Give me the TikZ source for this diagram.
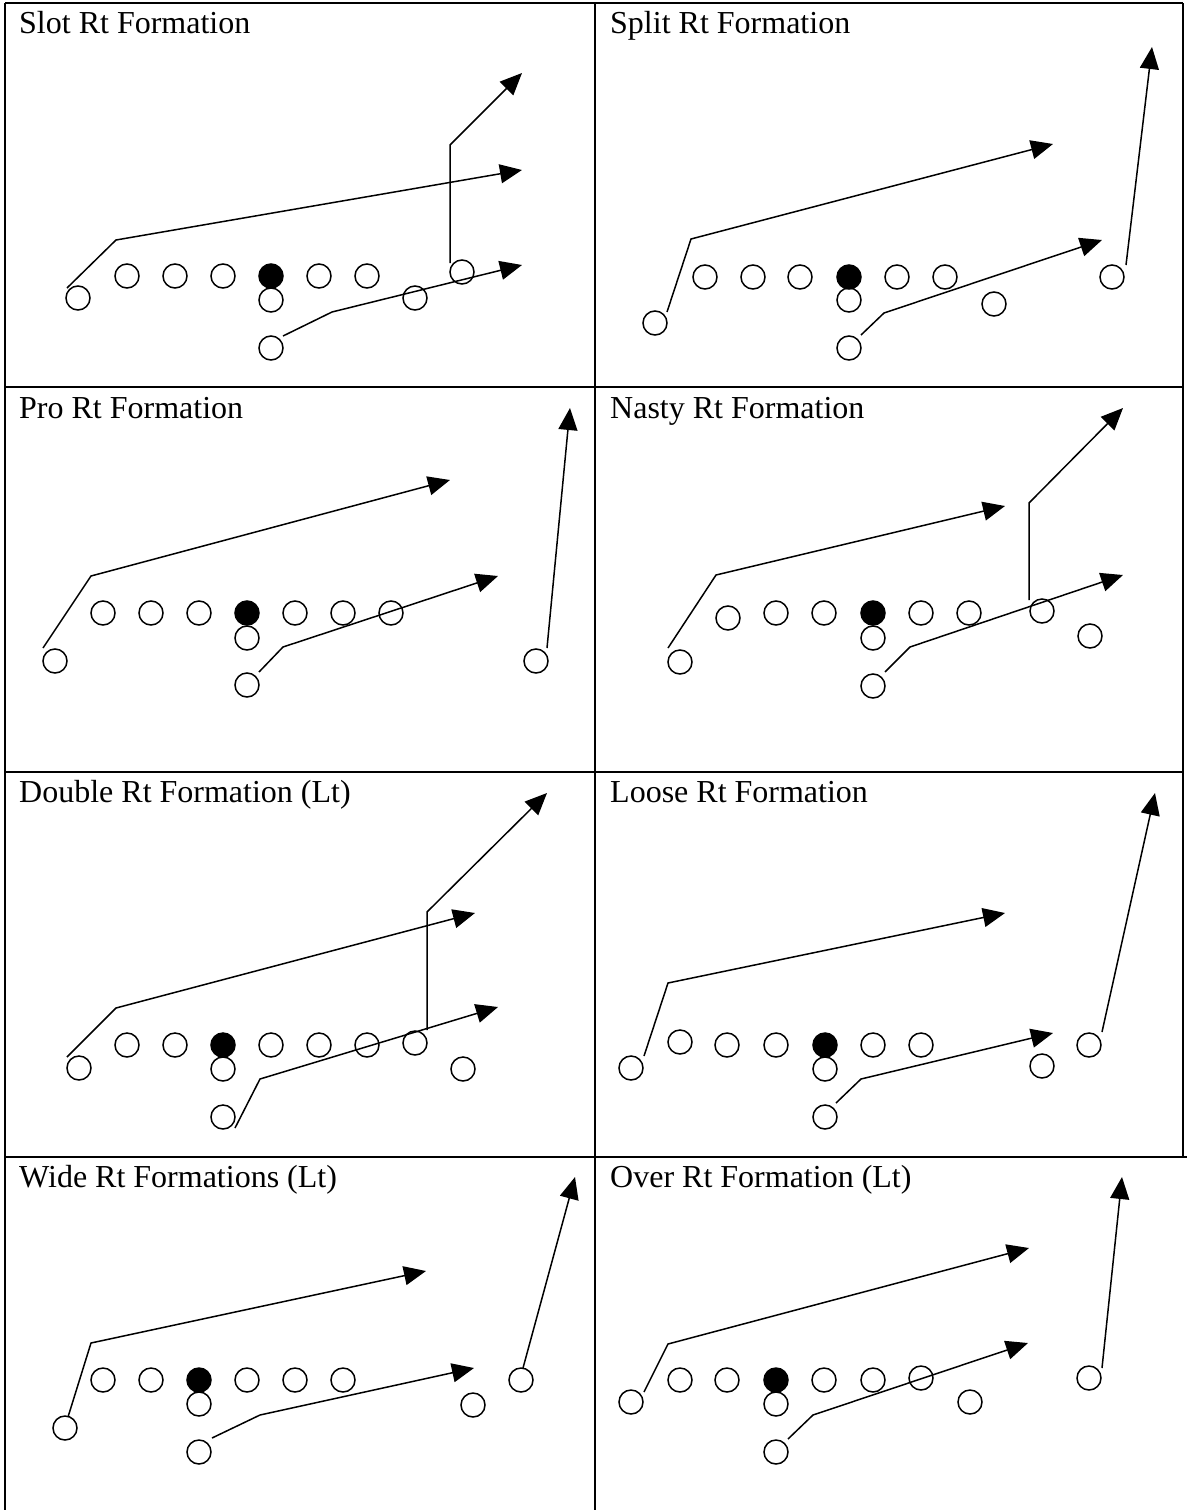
\documentclass[tikz,border=0pt]{standalone}
\usepackage{fontspec}
\setmainfont{Liberation Serif}
\usetikzlibrary{arrows.meta}
\begin{document}
\begin{tikzpicture}[x=1pt,y=-1pt,
  pl/.style={circle,draw,line width=1.5pt,minimum size=24pt,inner sep=0pt},
  qb/.style={pl,fill=black},
  route/.style={line width=1.5pt,-{Triangle[length=22pt,width=19pt]}},
  frame/.style={line width=2pt},
  ttl/.style={anchor=base west,inner sep=0pt,font=\fontsize{32}{38}\selectfont}]
\useasboundingbox (0,0) rectangle (1187,1510);
% frame
\draw[frame] (5,3) -- (1183,3);
\draw[frame] (5,387) -- (1183,387);
\draw[frame] (5,772) -- (1183,772);
\draw[frame] (5,1157) -- (1187,1157);
\draw[frame] (5,3) -- (5,1510);
\draw[frame] (595,3) -- (595,1510);
\draw[frame] (1183,3) -- (1183,1157);
% titles
\node[ttl] (t1) at (19,33) {Slot Rt Formation};
\node[ttl] (t2) at (610,33) {Split Rt Formation};
\node[ttl] (t3) at (19,418) {Pro Rt Formation};
\node[ttl] (t4) at (610,418) {Nasty Rt Formation};
\node[ttl] (t5) at (19,802) {Double Rt Formation (Lt)};
\node[ttl] (t6) at (610,802) {Loose Rt Formation};
\node[ttl] (t7) at (19,1187) {Wide Rt Formations (Lt)};
\node[ttl] (t8) at (610,1187) {Over Rt Formation (Lt)};

% ---------- Panel A: Slot Rt
\node[pl] (a1) at (127,276) {};
\node[pl] (a2) at (175,276) {};
\node[pl] (a3) at (223,276) {};
\node[qb] (aq) at (271,276) {};
\node[pl] (a5) at (319,276) {};
\node[pl] (a6) at (367,276) {};
\node[pl] (a7) at (462,272) {};
\node[pl] (a8) at (78,298) {};
\node[pl] (a9) at (271,300) {};
\node[pl] (a10) at (415,298) {};
\node[pl] (a11) at (271,348) {};
\coordinate (ar1s) at (67,288); \coordinate (ar1b) at (116,240); \coordinate (ar1e) at (522,170);
\coordinate (ar2s) at (450,263); \coordinate (ar2b) at (450,145); \coordinate (ar2e) at (522,73);
\coordinate (ar3s) at (283,336); \coordinate (ar3b) at (332,312); \coordinate (ar3e) at (522,265);
\draw[route] (ar1s) -- (ar1b) -- (ar1e);
\draw[route] (ar2s) -- (ar2b) -- (ar2e);
\draw[route] (ar3s) -- (ar3b) -- (ar3e);

% ---------- Panel B: Split Rt
\node[pl] (b1) at (705,277) {};
\node[pl] (b2) at (753,277) {};
\node[pl] (b3) at (800,277) {};
\node[qb] (bq) at (849,277) {};
\node[pl] (b5) at (897,277) {};
\node[pl] (b6) at (945,277) {};
\node[pl] (b7) at (849,300) {};
\node[pl] (b8) at (655,323) {};
\node[pl] (b9) at (994,304) {};
\node[pl] (b10) at (1112,277) {};
\node[pl] (b11) at (849,348) {};
\coordinate (br1s) at (667,312); \coordinate (br1b) at (691,239); \coordinate (br1e) at (1053,144);
\coordinate (br2s) at (861,335); \coordinate (br2b) at (884,313); \coordinate (br2e) at (1102,240);
\coordinate (br3s) at (1126,265); \coordinate (br3e) at (1152,47);
\draw[route] (br1s) -- (br1b) -- (br1e);
\draw[route] (br2s) -- (br2b) -- (br2e);
\draw[route] (br3s) -- (br3e);

% ---------- Panel C: Pro Rt
\node[pl] (c1) at (103,613) {};
\node[pl] (c2) at (151,613) {};
\node[pl] (c3) at (199,613) {};
\node[qb] (cq) at (247,613) {};
\node[pl] (c5) at (295,613) {};
\node[pl] (c6) at (343,613) {};
\node[pl] (c7) at (391,613) {};
\node[pl] (c8) at (247,638) {};
\node[pl] (c9) at (55,661) {};
\node[pl] (c10) at (536,661) {};
\node[pl] (c11) at (247,685) {};
\coordinate (cr1s) at (43,648); \coordinate (cr1b) at (91,576); \coordinate (cr1e) at (450,480);
\coordinate (cr2s) at (259,672); \coordinate (cr2b) at (283,647); \coordinate (cr2e) at (498,576);
\coordinate (cr3s) at (547,648); \coordinate (cr3e) at (570,408);
\draw[route] (cr1s) -- (cr1b) -- (cr1e);
\draw[route] (cr2s) -- (cr2b) -- (cr2e);
\draw[route] (cr3s) -- (cr3e);

% ---------- Panel D: Nasty Rt
\node[pl] (d1) at (728,618) {};
\node[pl] (d2) at (776,613) {};
\node[pl] (d3) at (824,613) {};
\node[qb] (dq) at (873,613) {};
\node[pl] (d5) at (921,613) {};
\node[pl] (d6) at (969,613) {};
\node[pl] (d7) at (1042,611) {};
\node[pl] (d8) at (1090,636) {};
\node[pl] (d9) at (873,638) {};
\node[pl] (d10) at (680,662) {};
\node[pl] (d11) at (873,686) {};
\coordinate (dr1s) at (668,648); \coordinate (dr1b) at (716,575); \coordinate (dr1e) at (1005,506);
\coordinate (dr2s) at (1029,600); \coordinate (dr2b) at (1029,503); \coordinate (dr2e) at (1123,408);
\coordinate (dr3s) at (885,672); \coordinate (dr3b) at (910,647); \coordinate (dr3e) at (1123,575);
\draw[route] (dr1s) -- (dr1b) -- (dr1e);
\draw[route] (dr2s) -- (dr2b) -- (dr2e);
\draw[route] (dr3s) -- (dr3b) -- (dr3e);

% ---------- Panel E: Double Rt (Lt)
\node[pl] (e1) at (127,1045) {};
\node[pl] (e2) at (175,1045) {};
\node[qb] (eq) at (223,1045) {};
\node[pl] (e4) at (271,1045) {};
\node[pl] (e5) at (319,1045) {};
\node[pl] (e6) at (367,1045) {};
\node[pl] (e7) at (415,1043) {};
\node[pl] (e8) at (79,1068) {};
\node[pl] (e9) at (223,1069) {};
\node[pl] (e10) at (463,1069) {};
\node[pl] (e11) at (223,1117) {};
\coordinate (er1s) at (67,1057); \coordinate (er1b) at (116,1008); \coordinate (er1e) at (475,913);
\coordinate (er2s) at (427,1030); \coordinate (er2b) at (427,912); \coordinate (er2e) at (547,793);
\coordinate (er3s) at (235,1128); \coordinate (er3b) at (260,1079); \coordinate (er3e) at (498,1007);
\draw[route] (er1s) -- (er1b) -- (er1e);
\draw[route] (er2s) -- (er2b) -- (er2e);
\draw[route] (er3s) -- (er3b) -- (er3e);

% ---------- Panel F: Loose Rt
\node[pl] (f1) at (680,1042) {};
\node[pl] (f2) at (727,1045) {};
\node[pl] (f3) at (776,1045) {};
\node[qb] (fq) at (825,1045) {};
\node[pl] (f5) at (873,1045) {};
\node[pl] (f6) at (921,1045) {};
\node[pl] (f7) at (631,1068) {};
\node[pl] (f8) at (825,1069) {};
\node[pl] (f9) at (1042,1066) {};
\node[pl] (f10) at (1089,1045) {};
\node[pl] (f11) at (825,1117) {};
\coordinate (fr1s) at (644,1056); \coordinate (fr1b) at (668,983); \coordinate (fr1e) at (1005,913);
\coordinate (fr2s) at (836,1103); \coordinate (fr2b) at (861,1079); \coordinate (fr2e) at (1053,1033);
\coordinate (fr3s) at (1102,1032); \coordinate (fr3e) at (1155,793);
\draw[route] (fr1s) -- (fr1b) -- (fr1e);
\draw[route] (fr2s) -- (fr2b) -- (fr2e);
\draw[route] (fr3s) -- (fr3e);

% ---------- Panel G: Wide Rt (Lt)
\node[pl] (g1) at (103,1380) {};
\node[pl] (g2) at (151,1380) {};
\node[qb] (gq) at (199,1380) {};
\node[pl] (g4) at (247,1380) {};
\node[pl] (g5) at (295,1380) {};
\node[pl] (g6) at (343,1380) {};
\node[pl] (g7) at (199,1404) {};
\node[pl] (g8) at (65,1428) {};
\node[pl] (g9) at (473,1405) {};
\node[pl] (g10) at (521,1380) {};
\node[pl] (g11) at (199,1452) {};
\coordinate (gr1s) at (68,1417); \coordinate (gr1b) at (91,1343); \coordinate (gr1e) at (426,1271);
\coordinate (gr2s) at (212,1438); \coordinate (gr2b) at (260,1415); \coordinate (gr2e) at (474,1368);
\coordinate (gr3s) at (523,1368); \coordinate (gr3e) at (575,1177);
\draw[route] (gr1s) -- (gr1b) -- (gr1e);
\draw[route] (gr2s) -- (gr2b) -- (gr2e);
\draw[route] (gr3s) -- (gr3e);

% ---------- Panel H: Over Rt (Lt)
\node[pl] (h1) at (680,1380) {};
\node[pl] (h2) at (727,1380) {};
\node[qb] (hq) at (776,1380) {};
\node[pl] (h4) at (824,1380) {};
\node[pl] (h5) at (873,1380) {};
\node[pl] (h6) at (921,1378) {};
\node[pl] (h7) at (631,1402) {};
\node[pl] (h8) at (776,1404) {};
\node[pl] (h9) at (970,1402) {};
\node[pl] (h10) at (1089,1378) {};
\node[pl] (h11) at (776,1452) {};
\coordinate (hr1s) at (644,1392); \coordinate (hr1b) at (668,1344); \coordinate (hr1e) at (1029,1248);
\coordinate (hr2s) at (788,1439); \coordinate (hr2b) at (813,1415); \coordinate (hr2e) at (1028,1343);
\coordinate (hr3s) at (1102,1368); \coordinate (hr3e) at (1122,1177);
\draw[route] (hr1s) -- (hr1b) -- (hr1e);
\draw[route] (hr2s) -- (hr2b) -- (hr2e);
\draw[route] (hr3s) -- (hr3e);
\end{tikzpicture}
\end{document}
